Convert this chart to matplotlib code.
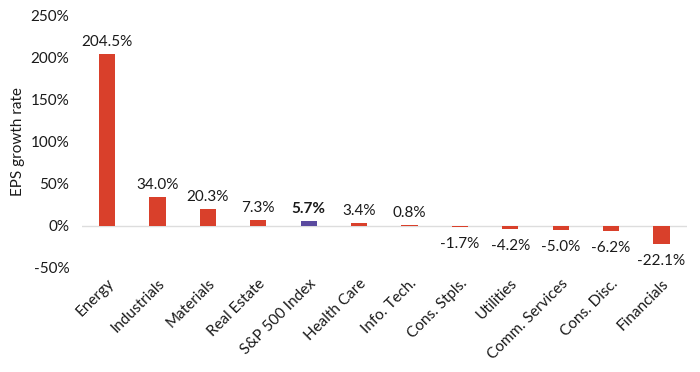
import matplotlib
matplotlib.use("Agg")
import matplotlib.pyplot as plt
from matplotlib.ticker import FuncFormatter

categories = ["Energy", "Industrials", "Materials", "Real Estate", "S&P 500 Index",
              "Health Care", "Info. Tech.", "Cons. Stpls.", "Utilities",
              "Comm. Services", "Cons. Disc.", "Financials"]
values = [204.5, 34.0, 20.3, 7.3, 5.7, 3.4, 0.8, -1.7, -4.2, -5.0, -6.2, -22.1]
highlight = "S&P 500 Index"
yticks = [-50, 0, 50, 100, 150, 200, 250]

plt.rcParams['font.family'] = ['Lato', 'DejaVu Sans']
red = "#D9402B"
purple = "#5A4A9F"

fig = plt.figure(figsize=(7.0, 3.72), dpi=100)
ax = fig.add_axes([0.117, 0.280, 0.864, 0.677])

x = list(range(len(categories)))
colors = [purple if c == highlight else red for c in categories]
ax.bar(x, values, width=0.32, color=colors, zorder=3)
ax.axhline(0, color="#DDDDDD", lw=1, zorder=1)

for xi, v, c in zip(x, values, categories):
    txt = f"{v:.1f}%"
    weight = "bold" if c == highlight else "normal"
    if v >= 0:
        ax.text(xi, v + 6, txt, ha="center", va="bottom", fontsize=11,
                fontweight=weight, color="#1a1a1a")
    else:
        ax.text(xi, v - 12, txt, ha="center", va="top", fontsize=11,
                fontweight=weight, color="#1a1a1a")

ax.set_xlim(-0.5, len(categories) - 0.5)
ax.set_ylim(-50, 250)
ax.set_yticks(yticks)
ax.yaxis.set_major_formatter(FuncFormatter(lambda v, p: f"{v:.0f}%"))
ax.set_xticks(x)
ax.set_xticklabels(categories, rotation=45, ha="right", rotation_mode="anchor", fontsize=11)
ax.tick_params(axis="both", length=0, labelsize=11, colors="#1a1a1a")
ax.tick_params(axis="x", pad=6)
ax.tick_params(axis="y", pad=9)
ax.set_ylabel("EPS growth rate", fontsize=11, color="#1a1a1a", labelpad=4)
for s in ax.spines.values():
    s.set_visible(False)

fig.savefig("out.png", dpi=100)
